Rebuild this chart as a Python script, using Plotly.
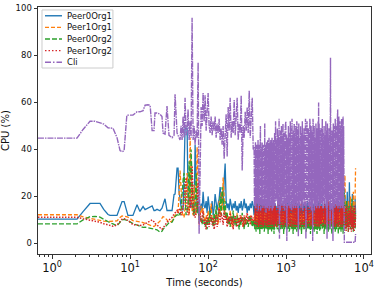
import plotly.graph_objects as go

# ---------------- data (time in seconds, CPU in %) ----------------
time_a = [0.66, 2.09, 2.5, 3.07, 3.56, 4.12, 4.6, 5.22, 5.54, 6.06, 6.81, 7.45, 7.9, 8.4, 9.1, 9.4,
          10.9, 12.3, 13.4, 14.7, 15.6, 17.0, 18.1, 19.2, 20.3, 20.9, 22.2, 24.2, 25.7, 26.5, 28.1,
          29.8, 31.6, 34.6, 36.7, 37.8, 40.1]
time_b = [41.3, 42.5, 43.8, 45.1, 46.5, 47.9, 49.3, 50.8, 52.3, 53.9, 55.5, 57.2, 58.9, 60.7, 62.5,
          64.4, 66.3, 68.3, 70.4, 72.5, 74.7, 76.9, 79.2, 81.6, 84.0, 86.5, 89.1, 91.8, 94.6, 97.4,
          100.3, 103.3, 106.4, 109.6, 112.9, 116.3, 119.8, 123.4, 127.1, 130.9, 134.9, 138.9, 143.1,
          147.4, 151.8, 156.4, 161.1, 165.9, 170.9, 176.0, 181.3, 186.8, 192.4, 198.1, 204.1, 210.2,
          216.6, 223.1, 229.8, 236.7, 243.8, 251.1, 258.7, 266.4, 274.4, 282.7, 291.2, 299.9, 308.9,
          318.2, 327.8, 337.6, 347.7, 358.2, 368.9, 380.0]
time_c = [390, 394, 398, 402, 406, 410, 414, 418, 422, 426, 430, 434, 438, 442, 446, 450, 454, 458,
          462, 466, 470, 474, 478, 482, 486, 490, 494, 498, 502, 506, 510, 514, 518, 522, 526, 530,
          534, 538, 542, 546, 550, 554, 558, 562, 566, 570, 574, 578, 582, 586, 590, 594, 598, 602,
          606, 610, 614, 618, 622, 626, 630, 634, 638, 642, 646, 650, 654, 658, 662, 666, 670, 674,
          678, 682, 686, 690, 694, 698, 702, 706,
          715, 725, 735, 745, 755, 765, 775, 785, 795, 805, 815, 825, 835, 845, 855, 865, 875, 885,
          895, 905, 915, 925, 935, 945, 955, 965, 975, 985, 995, 1005, 1015, 1025, 1035, 1045, 1055,
          1065, 1075, 1085, 1095, 1105, 1115, 1125, 1135, 1145, 1155, 1165, 1175, 1185, 1195, 1205,
          1215, 1225, 1235, 1245, 1255, 1265, 1275, 1285, 1295, 1305, 1315, 1325, 1335, 1345, 1355,
          1365, 1375, 1385, 1395, 1405,
          1420, 1440, 1460, 1480, 1500, 1520, 1540, 1560, 1580, 1600, 1620, 1640, 1660, 1680, 1700,
          1720, 1740, 1760, 1780, 1800, 1820, 1840, 1860, 1880, 1900, 1920, 1940, 1960, 1980, 2000,
          2020, 2040, 2060, 2080, 2100, 2120, 2140, 2160, 2180, 2200, 2220, 2240, 2260, 2280, 2300,
          2320, 2340, 2360, 2380, 2400, 2420, 2440, 2460, 2480, 2500, 2520, 2540, 2560, 2580, 2600,
          2620, 2640, 2660, 2680, 2700, 2720, 2740, 2760, 2780, 2800,
          2840, 2880, 2920, 2960, 3000, 3040, 3080, 3120, 3160, 3200, 3240, 3280, 3320, 3360, 3400,
          3440, 3480, 3520, 3560, 3600, 3640, 3680, 3720, 3760, 3800, 3840, 3880, 3920, 3960, 4000,
          4040, 4080, 4120, 4160, 4200, 4240, 4280, 4320, 4360, 4400, 4440, 4480, 4520, 4560, 4600,
          4640, 4680, 4720, 4760, 4800, 4840, 4880, 4920, 4960, 5000, 5040, 5080, 5120, 5160, 5200,
          5240, 5280, 5320, 5360, 5400, 5440, 5480, 5520]
time_d = [5600, 5700, 5800, 5900, 6000, 6100, 6200, 6300, 6400, 6500, 6600, 6700, 6800, 6900, 7000,
          7100, 7200, 7300, 7400, 7500, 7600, 7700, 7800]

peer0org1_a = [10.3, 10.3, 13.5, 17.0, 17.0, 17.0, 14.5, 12.3, 11.9, 11.9, 11.9, 15.5, 17.8, 17.8,
               13.5, 11.9, 11.9, 16.5, 13.6, 15.7, 14.4, 15.0, 15.3, 16.0, 14.0, 14.0, 14.5, 13.9,
               15.0, 16.5, 19.0, 14.0, 14.0, 14.0, 20.8, 21.0, 32.0]
peer0org1_b = [32, 22, 18, 16, 15, 14, 30, 49, 49, 49, 20, 17, 15, 18, 16, 14, 13, 42, 24, 15,
               13, 12, 14, 17, 14, 22, 16, 15, 18, 13, 20, 15, 12, 14, 18, 12, 15, 21, 16, 14,
               17, 19, 24, 18, 20, 16, 27, 34, 18, 15, 17, 14, 19, 16, 14, 17, 15, 18, 14, 16,
               13, 17, 15, 18, 14, 16, 19, 15, 17, 13, 16, 14, 17, 15, 18, 16]
peer0org1_c = [12, 16, 11, 17, 13, 15, 10, 16, 12, 18, 11, 15, 13, 17, 10, 16, 12, 15, 11, 17,
               13, 16, 10, 18, 12, 15, 11, 16, 13, 17, 10, 15, 12, 16, 11, 18, 13, 15, 10, 17,
               12, 16, 11, 15, 13, 17, 10, 16, 12, 18, 11, 15, 13, 16, 10, 17, 12, 15, 11, 16,
               13, 18, 10, 15, 12, 17, 11, 16, 13, 15, 10, 17, 12, 16, 11, 18, 13, 15, 10, 16,
               11, 17, 13, 15, 10, 16, 12, 18, 11, 15, 13, 17, 10, 16, 12, 15, 11, 17, 13, 16,
               10, 18, 12, 15, 11, 16, 13, 17, 10, 15, 12, 16, 11, 18, 13, 15, 10, 17, 12, 16,
               11, 15, 13, 17, 10, 16, 12, 18, 11, 15, 13, 16, 10, 17, 12, 15, 11, 16, 13, 18,
               10, 15, 12, 17, 11, 16, 13, 15, 10, 17,
               12, 16, 11, 17, 13, 15, 10, 16, 12, 18, 11, 15, 13, 17, 10, 16, 12, 15, 11, 17,
               13, 16, 10, 18, 12, 15, 11, 16, 13, 17, 10, 15, 12, 16, 11, 18, 13, 15, 10, 17,
               12, 16, 11, 15, 13, 17, 10, 16, 12, 18, 11, 15, 13, 16, 10, 17, 12, 15, 11, 16,
               13, 18, 10, 15, 12, 17, 11, 16, 13, 15,
               11, 17, 13, 15, 10, 16, 12, 18, 11, 15, 13, 17, 10, 16, 12, 15, 11, 17, 13, 16,
               10, 18, 12, 15, 11, 16, 13, 17, 10, 15, 12, 16, 11, 18, 13, 15, 10, 17, 12, 16,
               11, 15, 13, 17, 10, 16, 12, 18, 11, 15, 13, 16, 10, 17, 12, 15, 11, 16, 13, 18,
               10, 15, 12, 17, 11, 16, 13, 15]
peer0org1_d = [12, 20, 10, 18, 9, 22, 11, 17, 10, 26, 12, 19, 9, 16, 11, 21, 10, 18, 12, 15, 10, 19, 13]

peer1org1_a = [12.2, 12.2, 11.3, 10.6, 10.2, 9.8, 9.5, 9.3, 9.3, 9.4, 9.6, 11.0, 11.7, 11.6, 11.3,
               11.2, 9.7, 9.4, 9.3, 8.9, 8.5, 8.0, 7.6, 7.2, 7.2, 7.5, 8.2, 9.5, 10.8, 11.4, 11.0,
               10.0, 9.0, 9.5, 11.0, 12.0, 12.8]
peer1org1_b = [14, 20, 31, 24, 13, 12, 11, 15, 26, 30, 18, 12, 45, 22, 14, 12, 25, 14, 12, 41,
               18, 10, 12, 16, 13, 15, 11, 9, 12, 8, 14, 9, 11, 17, 10, 8, 12, 9, 14, 10,
               8, 18, 12, 22, 14, 28, 15, 11, 13, 9, 12, 8, 14, 10, 7, 12, 9, 11, 8, 13,
               9, 11, 8, 12, 10, 7, 11, 9, 12, 8, 11, 9, 12, 8, 10, 9]
peer1org1_c = [9, 12, 8, 13, 10, 11, 7, 12, 9, 13, 8, 11, 10, 12, 7, 13, 9, 11, 8, 12,
               10, 13, 7, 11, 9, 12, 8, 13, 10, 11, 7, 12, 9, 13, 8, 11, 10, 12, 7, 13,
               9, 11, 8, 12, 10, 13, 7, 11, 9, 12, 8, 13, 10, 11, 7, 12, 9, 13, 8, 11,
               10, 12, 7, 13, 9, 11, 8, 12, 10, 13, 7, 11, 9, 12, 8, 13, 10, 11, 7, 12,
               9, 13, 8, 11, 10, 12, 7, 13, 9, 11, 8, 12, 10, 13, 7, 11, 9, 12, 8, 13,
               10, 11, 7, 12, 9, 13, 8, 11, 10, 12, 7, 13, 9, 11, 8, 12, 10, 13, 7, 11,
               9, 12, 8, 13, 10, 11, 7, 12, 9, 13, 8, 11, 10, 12, 7, 13, 9, 11, 8, 12,
               10, 13, 7, 11, 9, 12, 8, 13, 10, 11,
               9, 13, 8, 11, 10, 12, 7, 13, 9, 11, 8, 12, 10, 13, 7, 11, 9, 12, 8, 13,
               10, 11, 7, 12, 9, 13, 8, 11, 10, 12, 7, 13, 9, 11, 8, 12, 10, 13, 7, 11,
               9, 12, 8, 13, 10, 11, 7, 12, 9, 13, 8, 11, 10, 12, 7, 13, 9, 11, 8, 12,
               10, 13, 7, 11, 9, 12, 8, 13, 10, 11,
               9, 12, 8, 13, 10, 11, 7, 12, 9, 13, 8, 11, 10, 12, 7, 13, 9, 11, 8, 12,
               10, 13, 7, 11, 9, 12, 8, 13, 10, 11, 7, 12, 9, 13, 8, 11, 10, 12, 7, 13,
               9, 11, 8, 12, 10, 13, 7, 11, 9, 12, 8, 13, 10, 11, 7, 12, 9, 13, 8, 11,
               10, 12, 7, 13, 9, 11, 8, 12]
peer1org1_d = [10, 29, 9, 16, 8, 14, 10, 18, 7, 15, 9, 20, 8, 13, 10, 17, 9, 22, 8, 15, 10, 25, 32]

peer0org2_a = [8.3, 8.3, 10.0, 11.4, 11.5, 11.2, 10.3, 9.2, 8.8, 8.3, 7.5, 9.0, 10.0, 10.2, 9.8,
               9.7, 8.5, 7.8, 7.4, 6.8, 6.9, 6.6, 6.5, 6.3, 6.0, 5.9, 5.8, 4.8, 5.2, 6.0, 7.0, 8.0,
               8.8, 9.0, 10.5, 11.5, 12.2]
peer0org2_b = [12, 13, 12, 14, 22, 27, 30, 20, 12, 14, 16, 35, 18, 40, 22, 14, 12, 15, 30, 13,
               18, 9, 11, 10, 8, 12, 9, 7, 10, 6, 11, 8, 14, 9, 11, 7, 13, 8, 16, 10,
               12, 14, 20, 12, 24, 15, 12, 18, 10, 13, 8, 11, 7, 12, 9, 14, 8, 11, 7, 12,
               9, 6, 10, 8, 13, 9, 6, 11, 8, 10, 7, 12, 9, 11, 7, 10]
peer0org2_c = [7, 9, 6, 10, 7, 8, 5, 9, 7, 10, 6, 8, 7, 9, 6, 10, 7, 8, 4, 9,
               7, 10, 6, 8, 7, 9, 6, 10, 7, 8, 6, 9, 7, 10, 5, 9, 7, 8, 6, 10,
               7, 9, 6, 8, 7, 10, 6, 9, 7, 8, 4, 10, 7, 9, 6, 8, 7, 10, 6, 9,
               7, 8, 6, 10, 7, 9, 5, 8, 7, 10, 6, 9, 7, 8, 6, 10, 7, 9, 4, 8,
               6, 10, 7, 9, 7, 8, 6, 10, 7, 9, 5, 8, 7, 10, 6, 9, 7, 8, 6, 10,
               7, 9, 4, 8, 6, 10, 7, 9, 7, 8, 6, 10, 7, 9, 6, 8, 7, 10, 5, 9,
               6, 8, 7, 10, 7, 9, 6, 8, 6, 10, 7, 9, 4, 8, 6, 10, 7, 9, 6, 8,
               7, 10, 6, 9, 7, 8, 5, 10, 7, 9,
               6, 9, 7, 10, 6, 8, 7, 9, 4, 10, 7, 8, 6, 9, 7, 10, 6, 8, 7, 9,
               5, 10, 7, 8, 6, 9, 7, 10, 6, 8, 7, 9, 4, 10, 7, 8, 6, 9, 7, 10,
               6, 8, 7, 9, 5, 10, 7, 8, 6, 9, 7, 10, 6, 8, 4, 9, 7, 10, 6, 8,
               7, 9, 6, 10, 5, 8, 7, 9, 6, 10,
               7, 8, 6, 9, 7, 10, 4, 8, 7, 9, 6, 10, 7, 8, 6, 9, 5, 10, 7, 8,
               6, 9, 7, 10, 6, 8, 4, 9, 7, 10, 6, 8, 7, 9, 6, 10, 5, 8, 7, 9,
               6, 10, 7, 8, 6, 9, 4, 10, 7, 8, 6, 9, 7, 10, 6, 8, 5, 9, 7, 10,
               6, 8, 7, 9, 4, 10, 7, 8]
peer0org2_d = [23, 8, 15, 6, 18, 7, 12, 5, 16, 8, 11, 6, 14, 7, 19, 6, 12, 5, 15, 8, 10, 6, 13]

peer1org2_a = [11.1, 11.1, 10.5, 10.0, 9.6, 9.0, 8.4, 7.8, 7.5, 7.3, 7.8, 9.5, 10.3, 10.5, 10.2,
               9.8, 8.0, 7.7, 7.6, 7.9, 8.3, 9.0, 9.5, 10.0, 9.2, 8.5, 7.8, 6.8, 6.0, 6.5, 8.0,
               9.0, 10.0, 11.0, 12.5, 13.0, 14.0]
peer1org2_b = [13, 14, 15, 12, 13, 16, 18, 24, 28, 14, 12, 13, 20, 15, 33, 18, 12, 11, 13, 16,
               26, 8, 13, 9, 11, 14, 8, 10, 6, 12, 9, 7, 10, 12, 8, 11, 6, 9, 12, 7,
               10, 15, 9, 13, 11, 8, 14, 10, 12, 7, 11, 9, 13, 8, 11, 6, 10, 12, 9, 7,
               11, 8, 12, 9, 11, 7, 12, 8, 10, 13, 9, 11, 8, 12, 10, 11]
peer1org2_c = [9, 15, 8, 16, 10, 14, 7, 17, 9, 15, 8, 13, 10, 16, 7, 15, 9, 18, 8, 14,
               10, 16, 7, 15, 9, 14, 8, 17, 10, 15, 7, 16, 9, 14, 8, 15, 10, 17, 8, 14,
               9, 16, 7, 15, 10, 14, 8, 17, 9, 15, 7, 16, 10, 13, 8, 15, 9, 18, 7, 14,
               10, 16, 8, 15, 9, 14, 7, 16, 10, 15, 8, 17, 9, 14, 8, 15, 10, 16, 7, 15,
               8, 16, 9, 15, 7, 14, 10, 17, 8, 15, 9, 16, 7, 14, 10, 15, 8, 17, 9, 14,
               7, 16, 10, 15, 8, 14, 9, 18, 7, 15, 10, 16, 8, 14, 9, 15, 7, 17, 10, 14,
               8, 16, 9, 15, 7, 14, 10, 17, 8, 15, 9, 16, 7, 13, 10, 15, 8, 16, 9, 14,
               7, 15, 10, 17, 8, 14, 9, 16, 7, 15,
               10, 16, 8, 15, 9, 14, 7, 17, 10, 15, 8, 16, 9, 13, 7, 15, 10, 18, 8, 14,
               9, 16, 7, 15, 10, 14, 8, 17, 9, 15, 7, 16, 10, 14, 8, 15, 9, 17, 7, 14,
               10, 16, 8, 15, 9, 14, 7, 16, 10, 15, 8, 17, 9, 14, 7, 15, 10, 16, 8, 14,
               9, 15, 7, 17, 10, 14, 8, 16, 9, 15,
               8, 16, 10, 15, 7, 14, 9, 17, 8, 15, 10, 16, 7, 13, 9, 15, 8, 18, 10, 14,
               7, 16, 9, 15, 8, 14, 10, 17, 7, 15, 9, 16, 8, 14, 10, 15, 7, 17, 9, 14,
               8, 16, 10, 15, 7, 14, 9, 16, 8, 15, 10, 17, 7, 14, 9, 15, 8, 16, 10, 14,
               7, 15, 9, 17, 8, 14, 10, 16]
peer1org2_d = [14, 6, 15, 5, 16, 7, 13, 5, 15, 6, 14, 8, 16, 5, 13, 7, 15, 6, 14, 5, 16, 7, 12]

cli_a = [44.8, 44.8, 48.5, 52.0, 52.0, 51.5, 50.8, 49.2, 49.0, 49.0, 45.0, 39.5, 39.0, 39.5, 54.5,
         54.6, 54.6, 56.0, 56.0, 56.5, 58.8, 59.0, 58.8, 48.0, 48.0, 55.5, 55.5, 55.0, 54.0, 47.0,
         46.5, 58.5, 46.0, 45.0, 46.0, 63.5, 47.0]
cli_b = [46, 45, 44, 50, 44, 54, 45, 62, 46, 48, 57, 44, 52, 45, 96, 44, 50, 42, 48, 45,
         77, 4, 46, 58, 50, 64, 52, 63, 48, 56, 64, 50, 47, 54, 46, 52, 48, 54, 45, 51,
         47, 53, 44, 49, 42, 50, 36, 46, 55, 37, 58, 48, 62, 45, 52, 47, 61, 46, 53, 62,
         44, 51, 47, 63, 31, 50, 45, 56, 48, 58, 47, 65, 45, 53, 62, 40]
cli_c = [41, 16, 40, 18, 43, 15, 39, 20, 42, 17, 38, 19, 44, 14, 40, 21, 42, 16, 39, 18,
         50, 14, 41, 19, 38, 16, 43, 20, 40, 15, 42, 17, 39, 21, 44, 16, 51, 15, 40, 18,
         42, 13, 39, 17, 43, 20, 41, 15, 44, 18, 40, 16, 42, 19, 45, 14, 43, 17, 39, 20,
         41, 15, 44, 18, 40, 16, 42, 19, 45, 14, 43, 17, 41, 18, 39, 15, 44, 20, 42, 16,
         47, 16, 52, 18, 44, 19, 49, 15, 46, 17, 53, 2, 45, 14, 48, 17, 50, 16, 44, 20,
         51, 15, 47, 18, 43, 14, 49, 17, 52, 16, 46, 1, 45, 15, 48, 19, 50, 16, 44, 18,
         47, 15, 52, 19, 46, 16, 49, 14, 53, 17, 45, 18, 48, 15, 44, 20, 51, 16, 47, 19,
         45, 15, 50, 17, 46, 16, 52, 18, 48, 15,
         48, 3, 51, 16, 45, 18, 50, 15, 47, 17, 52, 14, 46, 19, 49, 16, 44, 20, 53, 2,
         47, 14, 52, 19, 46, 16, 49, 20, 44, 15, 53, 18, 48, 16, 50, 14, 45, 17, 48, 1,
         53, 15, 47, 18, 50, 14, 45, 17, 48, 16, 51, 19, 46, 15, 49, 18, 44, 16, 52, 20,
         60, 19, 51, 15, 47, 18, 49, 16, 45, 17,
         49, 17, 53, 15, 47, 18, 50, 16, 46, 19, 52, 15, 48, 2, 51, 16, 45, 18, 49, 17,
         47, 6, 79, 14, 52, 16, 48, 19, 46, 1, 51, 16, 47, 18, 50, 15, 53, 17, 46, 19,
         50, 16, 48, 18, 57, 15, 49, 17, 54, 16, 48, 19, 52, 15, 50, 18, 47, 16, 53, 19,
         51, 15, 49, 18, 54, 16, 50, 18]
cli_d = [0.5, 0.5, 0.5, 0.5, 0.5, 0.5, 0.5, 0.5, 0.5, 0.5, 0.5, 0.5, 0.5, 0.5, 0.5, 0.5, 0.5, 0.5,
         0.5, 0.5, 0.5, 0.5, 4.0]

series_names = ["Peer0Org1", "Peer1Org1", "Peer0Org2", "Peer1Org2", "Cli"]
x_tick_values = [1, 10, 100, 1000, 10000]
x_tick_labels = ["10<sup>0</sup>", "10<sup>1</sup>", "10<sup>2</sup>", "10<sup>3</sup>", "10<sup>4</sup>"]
y_tick_values = [0, 20, 40, 60, 80, 100]

# ---------------- assemble ----------------
time_s = time_a + time_b + time_c + time_d
values = {
    "Peer0Org1": peer0org1_a + peer0org1_b + peer0org1_c + peer0org1_d,
    "Peer1Org1": peer1org1_a + peer1org1_b + peer1org1_c + peer1org1_d,
    "Peer0Org2": peer0org2_a + peer0org2_b + peer0org2_c + peer0org2_d,
    "Peer1Org2": peer1org2_a + peer1org2_b + peer1org2_c + peer1org2_d,
    "Cli": cli_a + cli_b + cli_c + cli_d,
}
for k, v in values.items():
    assert len(v) == len(time_s), (k, len(v), len(time_s))

styles = {
    "Peer0Org1": dict(color="#1f77b4", dash="solid", width=1.3),
    "Peer1Org1": dict(color="#ff7f0e", dash="4px,2px", width=1.3),
    "Peer0Org2": dict(color="#2ca02c", dash="5px,2px", width=1.3),
    "Peer1Org2": dict(color="#d62728", dash="1.5px,1.5px", width=1.5),
    "Cli": dict(color="#9467bd", dash="6px,1px,1.5px,1px", width=1.4),
}

fig = go.Figure()
for name in series_names:
    st = styles[name]
    fig.add_trace(go.Scatter(
        x=time_s, y=values[name], mode="lines", name=name, showlegend=False,
        line=dict(color=st["color"], dash=st["dash"], width=st["width"]),
    ))

# legend drawn as a compact key (matplotlib-like spacing)
L_X0, L_X1, L_TOP, L_BOT = 0.012, 0.225, 0.988, 0.753
legend_dash = {"Peer0Org1": "solid", "Peer1Org1": "4px,2px", "Peer0Org2": "5px,2px",
               "Peer1Org2": "1.5px,2px", "Cli": "6px,2px,1.5px,2px"}
shapes = [dict(type="rect", xref="paper", yref="paper", x0=L_X0, x1=L_X1, y0=L_BOT, y1=L_TOP,
               line=dict(color="#cccccc", width=1), fillcolor="rgba(255,255,255,0.85)",
               layer="above")]
annotations = []
row_step = (L_TOP - L_BOT) / 5.0
for i, name in enumerate(series_names):
    yy = L_TOP - row_step * (i + 0.5)
    shapes.append(dict(type="line", xref="paper", yref="paper", x0=0.021, x1=0.072, y0=yy, y1=yy,
                       line=dict(color=styles[name]["color"], dash=legend_dash[name], width=1.4),
                       layer="above"))
    annotations.append(dict(xref="paper", yref="paper", x=0.081, y=yy, xanchor="left",
                            yanchor="middle", text=name, showarrow=False,
                            font=dict(size=8.5, family="DejaVu Sans", color="#111")))

minor_vals = [m * 10 ** e for e in range(-1, 5) for m in range(2, 10)]

fig.update_layout(
    template="none",
    width=382, height=294,
    margin=dict(l=38, r=11, t=7, b=40),
    paper_bgcolor="white", plot_bgcolor="white",
    font=dict(family="DejaVu Sans", color="#111"),
    showlegend=False,
    shapes=shapes, annotations=annotations,
    xaxis=dict(type="log", range=[-0.18, 4.09], tickvals=x_tick_values, ticktext=x_tick_labels,
               tickfont=dict(size=11.5), ticks="outside", ticklen=3.5, tickcolor="#333",
               showline=True, mirror=True, linecolor="#333", linewidth=1, showgrid=False,
               zeroline=False, automargin=False,
               minor=dict(tickvals=minor_vals, ticks="outside", ticklen=2, tickcolor="#333"),
               title=dict(text="Time (seconds)", font=dict(size=10), standoff=4)),
    yaxis=dict(range=[-4.5, 100.6], tickvals=y_tick_values, tickfont=dict(size=8.5),
               ticks="outside", ticklen=3.5, tickcolor="#333",
               showline=True, mirror=True, linecolor="#333", linewidth=1, showgrid=False,
               zeroline=False, automargin=False,
               title=dict(text="CPU (%)", font=dict(size=10), standoff=6)),
)

fig.write_html("out.html", config={"displayModeBar": False},
               post_script="document.body.style.margin='0px';document.body.style.padding='0px';")
